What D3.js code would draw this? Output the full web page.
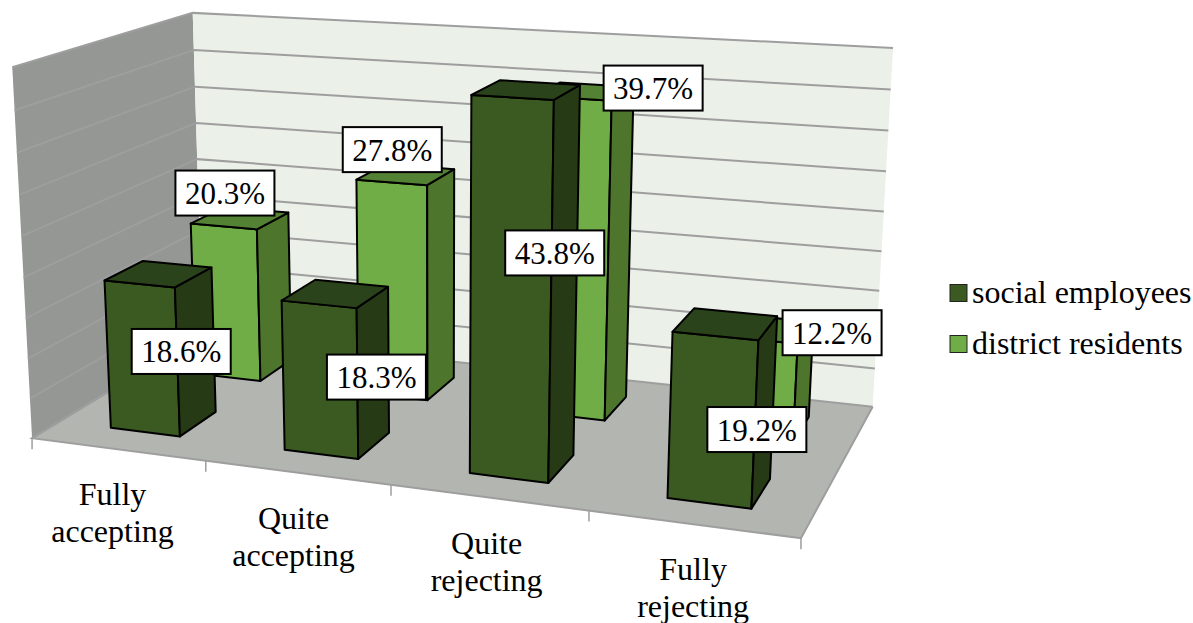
<!DOCTYPE html>
<html><head><meta charset="utf-8"><style>html,body{margin:0;padding:0;background:#fff}svg{display:block}text{font-family:"Liberation Serif",serif;fill:#000}</style>
<script src="https://cdn.jsdelivr.net/npm/d3@7"></script></head><body><svg id="c" width="1193" height="623"></svg>
<script>
const categories=[["Fully","accepting"],["Quite","accepting"],["Quite","rejecting"],["Fully","rejecting"]];
const seriesNames=["social employees","district residents"];
const socialEmployees=[18.6,18.3,43.8,19.2];
const districtResidents=[20.3,27.8,39.7,12.2];
const seriesValues=[socialEmployees,districtResidents];
const yTicks=[0,5,10,15,20,25,30,35,40,45];
const colors=[{front:"#3a5a21",side:"#263a15",top:"#2b431a"},{front:"#70ad47",side:"#4d752c",top:"#548235"}];
// hand-placed data label nudges, px from each bar's projected centre
const labelNudges=[[[20,4],[40,9],[30.5,-28.5],[34.5,22.5]],[[-17,-100],[-14,-131.5],[71,-163],[67.5,-44.5]]];
// camera calibration: [x,y,z] box corner -> screen
const calib=[[[0,0,0],[32,437]],[[0,1,0],[12,67]],[[0,1,1],[193,13]],[[0,0,1],[202,336]],[[1,1,1],[893,48]],[[1,0,1],[873,405]],[[1,0,0],[800,540]],[[.25,0,0],[206,460]],[[.5,0,0],[392,485]],[[.75,0,0],[589,511]]];
function solve(A,b){const n=b.length,M=A.map((r,i)=>[...r,b[i]]);for(let i=0;i<n;i++){let p=i;for(let k=i+1;k<n;k++)if(Math.abs(M[k][i])>Math.abs(M[p][i]))p=k;[M[i],M[p]]=[M[p],M[i]];for(let k=0;k<n;k++){if(k==i)continue;const f=M[k][i]/M[i][i];for(let j=i;j<=n;j++)M[k][j]-=f*M[i][j];}}return M.map((r,i)=>r[n]/r[i]);}
const rows=[],rhs=[];calib.forEach(([[x,y,z],[u,v]])=>{u/=1000;v/=1000;rows.push([x,y,z,1,0,0,0,0,-u*x,-u*y,-u*z]);rhs.push(u);rows.push([0,0,0,0,x,y,z,1,-v*x,-v*y,-v*z]);rhs.push(v);});
const ATA=d3.range(11).map(i=>d3.range(11).map(j=>d3.sum(rows,r=>r[i]*r[j])));const ATb=d3.range(11).map(i=>d3.sum(rows,(r,k)=>r[i]*rhs[k]));
const P=solve(ATA,ATb);
function proj(x,y,z){const w=P[8]*x+P[9]*y+P[10]*z+1;return[1000*(P[0]*x+P[1]*y+P[2]*z+P[3])/w,1000*(P[4]*x+P[5]*y+P[6]*z+P[7])/w];}
const xScale=d3.scaleBand().domain(d3.range(4)).range([.002,1.002]).paddingInner(.595).paddingOuter(.2975);
const zScale=d3.scaleBand().domain(d3.range(2)).range([0,1]).paddingInner(.575).paddingOuter(.2875);
const yScale=d3.scaleLinear().domain([0,45]).range([0,1]);
const labelShift=d3.scaleLinear().domain([0,3]).range([-5,0]);
const svg=d3.select("#c");
const line=d3.line();const poly=pts=>line(pts)+"Z";
const G="#9e9e9e";
svg.append("path").attr("d",poly([proj(0,0,0),proj(0,1,0),proj(0,1,1),proj(0,0,1)])).attr("fill","#949794");
svg.append("path").attr("d",poly([proj(0,0,1),proj(0,1,1),proj(1,1,1),proj(1,0,1)])).attr("fill","#ebf0e9");
svg.append("path").attr("d",poly([proj(0,0,0),proj(0,0,1),proj(1,0,1),proj(1,0,0)])).attr("fill","#b2b5b0");
yTicks.forEach(t=>{const y=yScale(t);svg.append("path").attr("d",line([proj(0,y,0),proj(0,y,1),proj(1,y,1)])).attr("fill","none").attr("stroke",G).attr("stroke-width",2);});
svg.append("path").attr("d",line([proj(0,0,1),proj(0,0,0),proj(1,0,0),proj(1,0,1)])).attr("fill","none").attr("stroke",G).attr("stroke-width",2);
d3.range(0,5).forEach(i=>{const p=proj(i/4,0,0);svg.append("line").attr("x1",p[0]).attr("x2",p[0]).attr("y1",p[1]).attr("y2",p[1]+11).attr("stroke",G).attr("stroke-width",1.5);});
[1,0].forEach(s=>{seriesValues[s].forEach((v,i)=>{
 const x0=xScale(i),x1=x0+xScale.bandwidth(),z0=zScale(s),z1=z0+zScale.bandwidth(),y=yScale(v),c=colors[s];
 const g=svg.append("g").attr("stroke","#000").attr("stroke-width",2).attr("stroke-linejoin","round");
 g.append("path").attr("d",poly([proj(x0,0,z0),proj(x0,y,z0),proj(x1,y,z0),proj(x1,0,z0)])).attr("fill",c.front);
 g.append("path").attr("d",poly([proj(x1,0,z0),proj(x1,y,z0),proj(x1,y,z1),proj(x1,0,z1)])).attr("fill",c.side);
 g.append("path").attr("d",poly([proj(x0,y,z0),proj(x0,y,z1),proj(x1,y,z1),proj(x1,y,z0)])).attr("fill",c.top);
});});
[1,0].forEach(s=>seriesValues[s].forEach((v,i)=>{
 const a=proj(xScale(i)+xScale.bandwidth()/2,yScale(v)/2,zScale(s)+zScale.bandwidth()/2),n=labelNudges[s][i],p=[a[0]+n[0],a[1]+n[1]];
 svg.append("rect").attr("x",p[0]-49.5).attr("y",p[1]-22.5).attr("width",99).attr("height",45).attr("fill","#fff").attr("stroke","#000").attr("stroke-width",2);
 svg.append("text").attr("x",p[0]).attr("y",p[1]+11).attr("text-anchor","middle").attr("font-size",31).text(v.toFixed(1)+"%");
}));
categories.forEach((c,i)=>{const p=proj((i+.5)/4,0,0);c.forEach((t,k)=>svg.append("text").attr("x",p[0]+labelShift(i)).attr("y",p[1]+56+k*37).attr("text-anchor","middle").attr("font-size",32).text(t));});
seriesNames.forEach((n,s)=>{const y=d3.scaleLinear().domain([0,1]).range([293,344])(s);
 svg.append("rect").attr("x",950).attr("y",y-8.5).attr("width",17).attr("height",17).attr("fill",colors[s].front).attr("stroke","#222").attr("stroke-width",1);
 svg.append("text").attr("x",972).attr("y",y+9.5).attr("font-size",32).text(n);});
</script></body></html>
